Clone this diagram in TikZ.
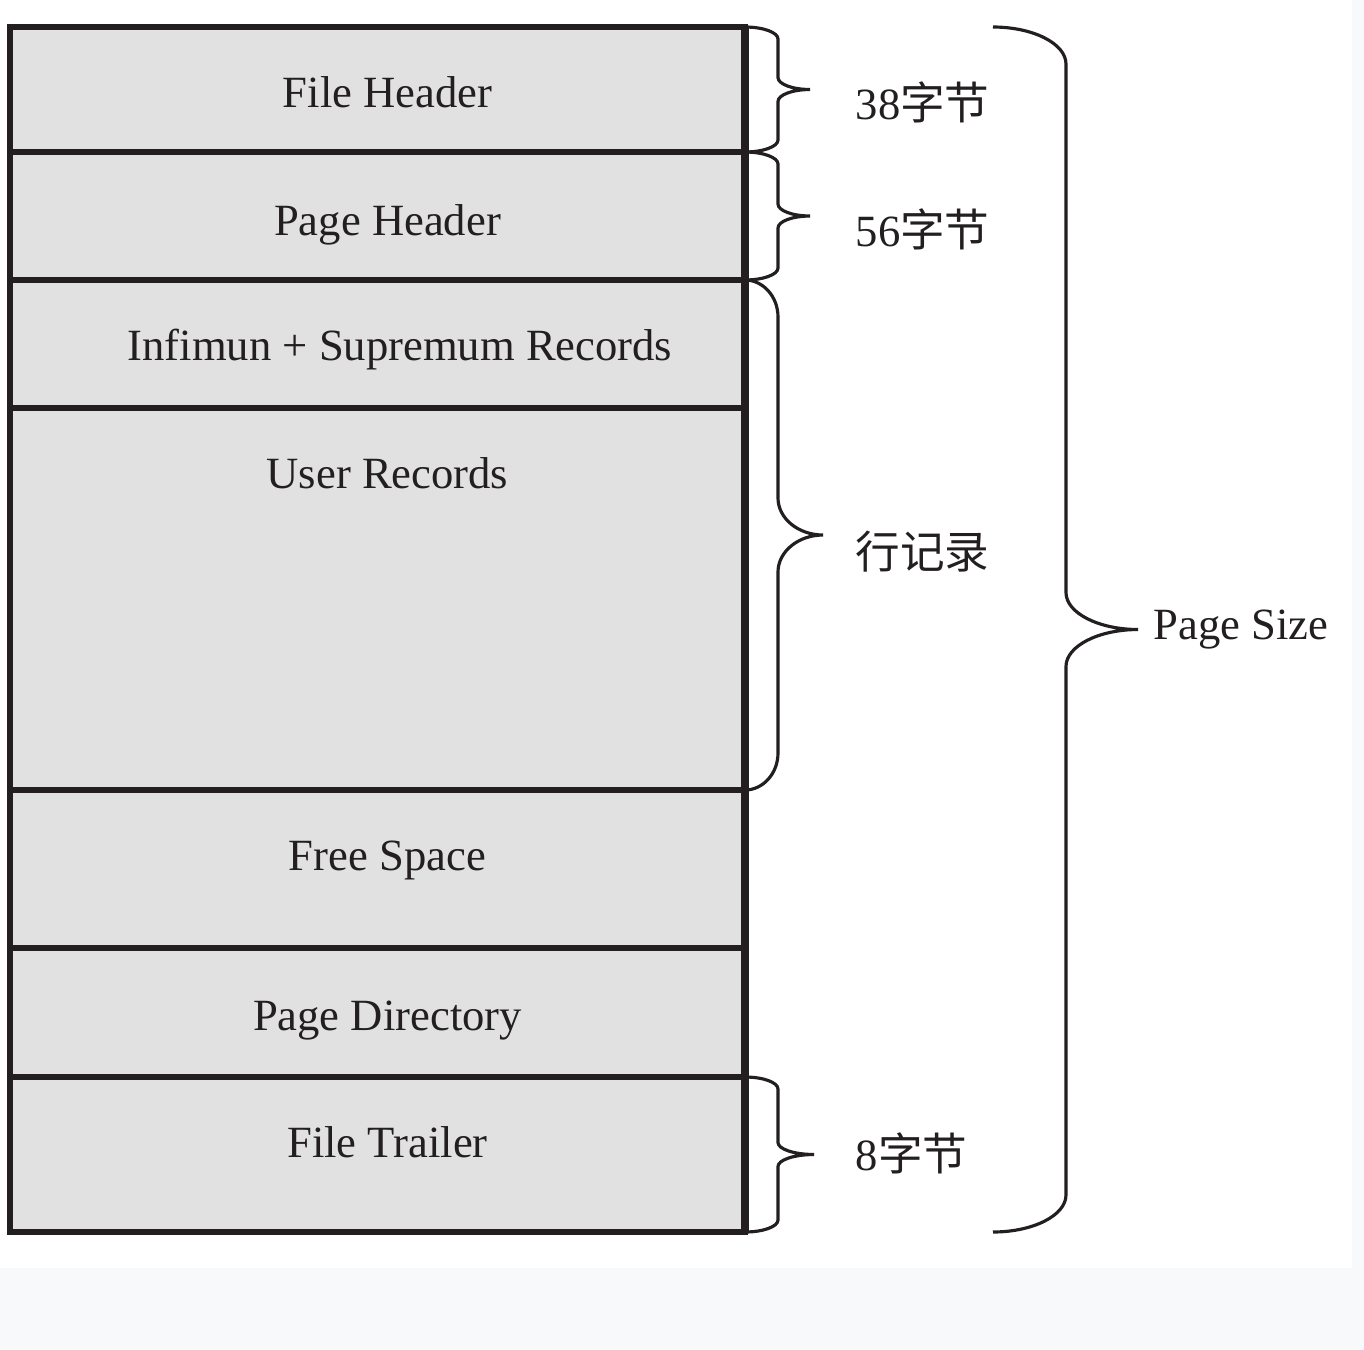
\documentclass[tikz,border=0pt]{standalone}
\usepackage{fontspec}
\setmainfont{Liberation Serif}
\newfontfamily\cjk{Noto Sans CJK SC}
\usepackage{tikz}
\usetikzlibrary{positioning, calc}
\definecolor{ink}{RGB}{35, 31, 32}
\definecolor{cellfill}{RGB}{225, 225, 225}
\definecolor{pagegrey}{RGB}{248, 249, 250}
\tikzset{
  font=\fontsize{12.7pt}{15pt}\selectfont,
  cell/.style={
    rectangle, draw=ink, fill=cellfill, line width=1.6pt,
    minimum width=7.35cm, inner sep=0pt, outer sep=0pt
  },
  celltext/.style={anchor=base, text=ink, inner sep=0pt},
  sizelabel/.style={anchor=base west, text=ink, inner sep=0pt},
  bracepen/.style={draw=ink, line width=0.9pt},
  % #1 = spine offset, #2 = tip depth, #3 = curl length
  pagebrace/.style n args={3}{
    to path={
      let \p1=(\tikztostart), \p2=(\tikztotarget),
          \p3=($(\tikztostart)!0.5!(\tikztotarget)$) in
      .. controls +(0.55*#1,0pt) and +(0pt,0.55*#3) .. (\x1+#1,\y1-#3)
      -- (\x1+#1,\y3+#3)
      .. controls +(0pt,-0.55*#3) and +({-0.55*(#2-#1)},0pt) .. (\x1+#2,\y3)
      .. controls +({-0.55*(#2-#1)},0pt) and +(0pt,0.55*#3) .. (\x1+#1,\y3-#3)
      -- (\x1+#1,\y2+#3)
      .. controls +(0pt,-0.55*#3) and +(0.55*#1,0pt) .. (\x2,\y2)
    }
  }
}
\begin{document}
\begin{tikzpicture}
  % page area
  \fill[pagegrey] (0,0) rectangle (13.64,-13.50);
  \useasboundingbox (0,0) rectangle (13.64,-13.50);
  \fill[white] (0,0) rectangle (13.52,-12.68);

  % Page layout: stacked cells
  \node[cell, minimum height=1.25cm, anchor=north] (fh) at (3.775,-0.27) {};
  \node[cell, minimum height=1.28cm, below=0pt of fh] (ph) {};
  \node[cell, minimum height=1.28cm, below=0pt of ph] (is) {};
  \node[cell, minimum height=3.82cm, below=0pt of is] (ur) {};
  \node[cell, minimum height=1.58cm, below=0pt of ur] (fs) {};
  \node[cell, minimum height=1.29cm, below=0pt of fs] (pd) {};
  \node[cell, minimum height=1.55cm, below=0pt of pd] (ft) {};
  \draw[ink, line width=2.3pt] (fh.north east) -- (ft.south east);

  % Cell titles
  \node[celltext] (fhtext) at ($(fh.north)+(0.10,-0.80)$) {File Header};
  \node[celltext] (phtext) at ($(ph.north)+(0.10,-0.83)$) {Page Header};
  \node[celltext] (istext) at ($(is.north)+(0.225,-0.80)$) {Infimun + Supremum Records};
  \node[celltext] (urtext) at ($(ur.north)+(0.10,-0.80)$) {User Records};
  \node[celltext] (fstext) at ($(fs.north)+(0.10,-0.80)$) {Free Space};
  \node[celltext] (pdtext) at ($(pd.north)+(0.10,-0.82)$) {Page Directory};
  \node[celltext] (fttext) at ($(ft.north)+(0.10,-0.80)$) {File Trailer};

  % Size braces
  \draw[bracepen] (fh.north east) to[pagebrace={0.33cm}{0.65cm}{0.12cm}] (fh.south east);
  \draw[bracepen] (ph.north east) to[pagebrace={0.33cm}{0.65cm}{0.12cm}] (ph.south east);
  \draw[bracepen] (is.north east) to[pagebrace={0.33cm}{0.78cm}{0.37cm}] (ur.south east);
  \draw[bracepen] (ft.north east) to[pagebrace={0.33cm}{0.69cm}{0.12cm}] (ft.south east);

  \coordinate (sizetop) at ($(fh.north east)+(2.48,0)$);
  \coordinate (sizebot) at ($(ft.south east)+(2.48,0)$);
  \draw[bracepen] (sizetop) to[pagebrace={0.73cm}{1.45cm}{0.37cm}] (sizebot);

  % Size labels
  \node[sizelabel] (fhsize) at (8.55,-1.19) {38{\cjk 字节}};
  \node[sizelabel] (phsize) at (8.55,-2.46) {56{\cjk 字节}};
  \node[sizelabel] (rowsize) at (8.55,-5.68) {\cjk 行记录};
  \node[sizelabel] (ftsize) at (8.55,-11.70) {8{\cjk 字节}};
  \node[sizelabel] (pagesize) at (11.53,-6.39) {Page Size};
\end{tikzpicture}
\end{document}
